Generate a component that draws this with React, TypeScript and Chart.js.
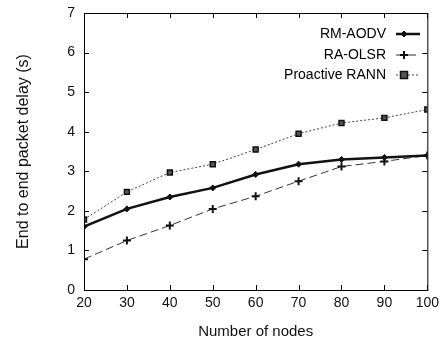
import React, { useEffect, useRef } from "react";
import { Chart, registerables } from "chart.js";

Chart.register(...registerables);

const nodes = [20, 30, 40, 50, 60, 70, 80, 90, 100];
const rmAodv = [1.6, 2.05, 2.35, 2.58, 2.92, 3.18, 3.3, 3.35, 3.4];
const raOlsr = [0.78, 1.25, 1.63, 2.05, 2.37, 2.75, 3.12, 3.25, 3.4];
const proactiveRann = [1.78, 2.48, 2.97, 3.18, 3.55, 3.95, 4.22, 4.35, 4.56];
const xTicks = [20, 30, 40, 50, 60, 70, 80, 90, 100];
const yTicks = [0, 1, 2, 3, 4, 5, 6, 7];
const seriesNames = ["RM-AODV", "RA-OLSR", "Proactive RANN"];

const FONT = "'Liberation Sans', Arial, sans-serif";

function drawMarker(ctx: any, style: string, r: number, x: number, y: number) {
  ctx.beginPath();
  if (style === "rect") {
    ctx.rect(x - r, y - r, 2 * r, 2 * r);
    ctx.fill();
    ctx.stroke();
  } else if (style === "rectRot") {
    ctx.moveTo(x, y - r);
    ctx.lineTo(x + r, y);
    ctx.lineTo(x, y + r);
    ctx.lineTo(x - r, y);
    ctx.closePath();
    ctx.fill();
    ctx.stroke();
  } else {
    ctx.moveTo(x - r, y);
    ctx.lineTo(x + r, y);
    ctx.moveTo(x, y - r);
    ctx.lineTo(x, y + r);
    ctx.stroke();
  }
}

const framePlugin = {
  id: "frame",
  afterDatasetsDraw(chart: any) {
    const { ctx, chartArea, scales } = chart;
    const { left, right, top, bottom } = chartArea;
    ctx.save();
    ctx.strokeStyle = "#000";
    ctx.lineWidth = 1;
    ctx.strokeRect(left + 0.5, top + 0.5, right - left, bottom - top);
    const tl = 5;
    ctx.beginPath();
    xTicks.forEach((v) => {
      const x = Math.round(scales.x.getPixelForValue(v)) + 0.5;
      ctx.moveTo(x, bottom);
      ctx.lineTo(x, bottom - tl);
      ctx.moveTo(x, top);
      ctx.lineTo(x, top + tl);
    });
    yTicks.forEach((v) => {
      const y = Math.round(scales.y.getPixelForValue(v)) + 0.5;
      ctx.moveTo(left, y);
      ctx.lineTo(left + tl, y);
      ctx.moveTo(right, y);
      ctx.lineTo(right - tl, y);
    });
    ctx.stroke();

    // legend
    ctx.font = `14px ${FONT}`;
    ctx.textAlign = "right";
    ctx.textBaseline = "middle";
    ctx.fillStyle = "#000";
    const textRight = 386;
    const x0 = 396;
    const x1 = 420;
    const rows = [34, 55, 75];
    chart.data.datasets.forEach((ds: any, i: number) => {
      const y = rows[i];
      ctx.fillText(ds.label, textRight, y);
      ctx.save();
      ctx.strokeStyle = ds.borderColor;
      ctx.lineWidth = ds.borderWidth;
      ctx.setLineDash(ds.borderDash || []);
      ctx.beginPath();
      ctx.moveTo(x0, y);
      ctx.lineTo(x1, y);
      ctx.stroke();
      ctx.restore();
      ctx.save();
      ctx.setLineDash([]);
      ctx.lineWidth = ds.pointBorderWidth;
      ctx.strokeStyle = ds.pointBorderColor;
      ctx.fillStyle = ds.pointBackgroundColor;
      drawMarker(ctx, ds.pointStyle, ds.pointRadius, (x0 + x1) / 2 - 4, y);
      ctx.restore();
    });
    ctx.restore();
  },
};

export default function App() {
  const ref = useRef<HTMLCanvasElement>(null);
  useEffect(() => {
    document.body.style.margin = "0";
    const mk = (arr: number[]) => nodes.map((n, i) => ({ x: n, y: arr[i] }));
    const chart = new Chart(ref.current!, {
      type: "line",
      data: {
        datasets: [
          {
            label: seriesNames[0],
            data: mk(rmAodv),
            borderColor: "#111",
            borderWidth: 2.5,
            pointStyle: "rectRot",
            pointRadius: 3,
            pointBackgroundColor: "#111",
            pointBorderColor: "#111",
            pointBorderWidth: 1,
          },
          {
            label: seriesNames[1],
            data: mk(raOlsr),
            borderColor: "#333",
            borderWidth: 1,
            borderDash: [8, 4],
            pointStyle: "cross",
            pointRadius: 4,
            pointBackgroundColor: "#111",
            pointBorderColor: "#111",
            pointBorderWidth: 2,
          },
          {
            label: seriesNames[2],
            data: mk(proactiveRann),
            borderColor: "#444",
            borderWidth: 1,
            borderDash: [2, 2],
            pointStyle: "rect",
            pointRadius: 3.5,
            pointBackgroundColor: "#555",
            pointBorderColor: "#111",
            pointBorderWidth: 1.5,
          },
        ] as any,
      },
      options: {
        animation: false,
        responsive: false,
        layout: { padding: { left: 0, right: 15, top: 13, bottom: 0 } },
        plugins: { legend: { display: false }, tooltip: { enabled: false } },
        scales: {
          x: {
            type: "linear",
            min: 20,
            max: 100,
            grid: { display: false, drawTicks: false, tickLength: 0 },
            border: { display: false },
            afterFit: (s: any) => {
              s.height = 52;
              s.paddingTop = 0;
              s.paddingBottom = 0;
            },
            afterBuildTicks: (s: any) => {
              s.ticks = xTicks.map((v) => ({ value: v }));
            },
            ticks: {
              color: "#111",
              font: { family: FONT, size: 14 },
              padding: 5,
              maxRotation: 0,
            },
            title: {
              display: true,
              text: "Number of nodes",
              color: "#111",
              font: { family: FONT, size: 15 },
              padding: { top: 0, bottom: 1 },
            },
          },
          y: {
            min: 0,
            max: 7,
            grid: { display: false, drawTicks: false, tickLength: 0 },
            border: { display: false },
            afterFit: (s: any) => {
              s.width = 84;
              s.paddingTop = 0;
              s.paddingBottom = 0;
            },
            afterBuildTicks: (s: any) => {
              s.ticks = yTicks.map((v) => ({ value: v }));
            },
            ticks: {
              color: "#111",
              font: { family: FONT, size: 14 },
              padding: 9,
            },
            title: {
              display: true,
              text: "End to end packet delay (s)",
              color: "#111",
              font: { family: FONT, size: 16 },
              padding: { top: 14, bottom: 0 },
            },
          },
        },
      } as any,
      plugins: [framePlugin],
    });
    return () => chart.destroy();
  }, []);
  return <canvas ref={ref} width={444} height={342} style={{ display: "block" }} />;
}
